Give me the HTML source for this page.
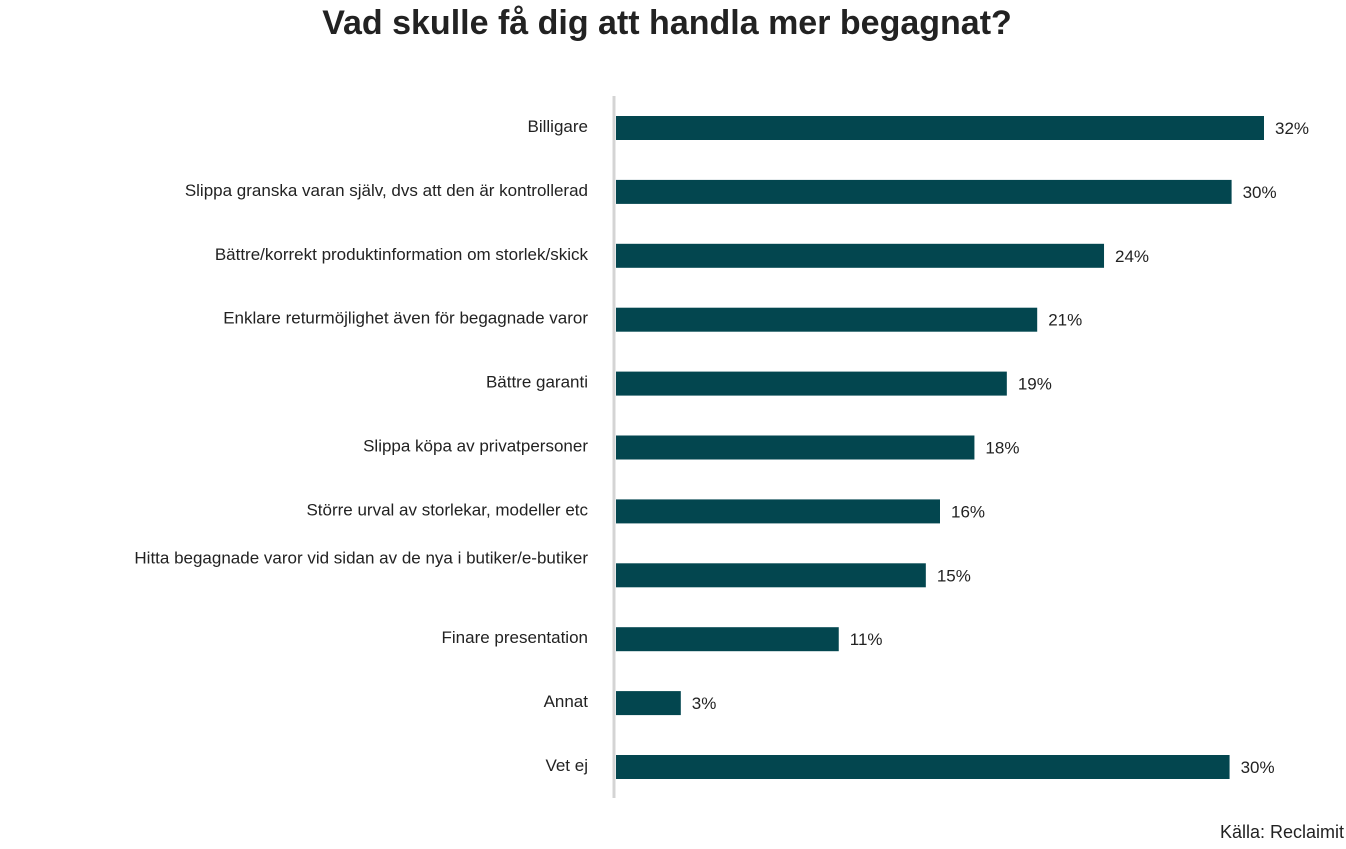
<!DOCTYPE html>
<html><head><meta charset="utf-8"><style>
body{margin:0;background:#fff;width:1346px;height:844px;overflow:hidden;font-family:"Liberation Sans",sans-serif;}
</style></head><body>
<svg width="1346" height="844" xmlns="http://www.w3.org/2000/svg">
<text x="667" y="34" text-anchor="middle" font-size="34" font-weight="bold" fill="#222">Vad skulle få dig att handla mer begagnat?</text>
<g id="bars"></g>
<line x1="614" y1="96" x2="614" y2="798" stroke="#d4d4d4" stroke-width="3"/>
<text x="1344" y="838" text-anchor="end" font-size="18" fill="#222">Källa: Reclaimit</text>
</svg>
<script>
const categories=["Billigare","Slippa granska varan själv, dvs att den är kontrollerad","Bättre/korrekt produktinformation om storlek/skick","Enklare returmöjlighet även för begagnade varor","Bättre garanti","Slippa köpa av privatpersoner","Större urval av storlekar, modeller etc","Hitta begagnade varor vid sidan av de nya i butiker/e-butiker","Finare presentation","Annat","Vet ej"];
const values=[32,30.4,24.1,20.8,19.3,17.7,16,15.3,11,3.2,30.3];
const valueLabels=["32%","30%","24%","21%","19%","18%","16%","15%","11%","3%","30%"];
const NS="http://www.w3.org/2000/svg";
const g=document.getElementById("bars");
const x0=616, pxPer=20.25;
const xScale=v=>x0+v*pxPer;
const yScale=i=>128+i*63.9;
categories.forEach((c,i)=>{
  const yc=yScale(i);
  const r=document.createElementNS(NS,"rect");
  r.setAttribute("x",x0);r.setAttribute("y",yc-12);
  r.setAttribute("width",xScale(values[i])-x0);r.setAttribute("height",24);
  r.setAttribute("fill","#03464f");
  
  
  g.appendChild(r);
  const t=document.createElementNS(NS,"text");
  t.setAttribute("x",588);
  t.setAttribute("y",(i===7?yc-12:yc+4));
  t.setAttribute("text-anchor","end");t.setAttribute("font-size","17");t.setAttribute("fill","#222");
  t.textContent=c;
  
  
  g.appendChild(t);
  const v=document.createElementNS(NS,"text");
  v.setAttribute("x",xScale(values[i])+11);v.setAttribute("y",yc+6);
  v.setAttribute("font-size","17");v.setAttribute("fill","#222");
  v.textContent=valueLabels[i];
  
  
  g.appendChild(v);
});
</script>
</body></html>
